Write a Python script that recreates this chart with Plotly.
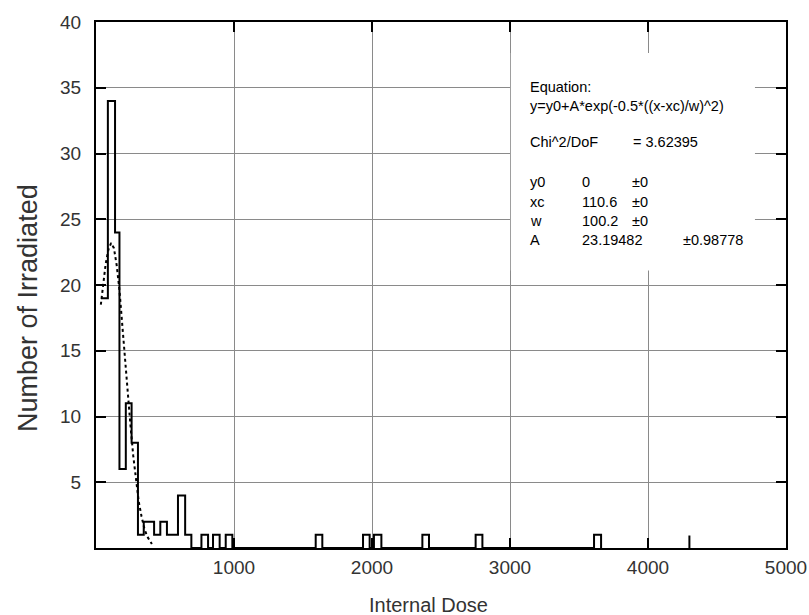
import plotly.graph_objects as go

# ---- data ----
# histogram bins (left edge, right edge, count) in "Internal Dose" units
bin_left = [36, 86, 138, 170, 216, 258, 304, 346, 421, 466, 514, 594, 646,
            764, 848, 940, 1592, 1935, 2014, 2365, 2751, 3609]
bin_right = [86, 138, 170, 216, 258, 304, 346, 421, 466, 514, 594, 646, 691,
             812, 896, 988, 1640, 1983, 2068, 2413, 2800, 3660]
counts = [19, 34, 24, 6, 11, 8, 1, 2, 1, 2, 1, 4, 1,
          1, 1, 1, 1, 1, 1, 1, 1, 1]

# dotted fitted curve
fit_x = [35, 50, 70, 90, 110, 130, 150, 170, 190, 210, 230, 250, 270, 290,
         310, 330, 350, 370, 390, 405]
fit_y = [18.5, 19.8, 21.6, 22.7, 23.2, 22.8, 21.5, 19.6, 16.9, 14.6, 11.9,
         9.3, 7.0, 5.0, 3.5, 2.4, 1.5, 0.9, 0.5, 0.3]

x_ticks = [1000, 2000, 3000, 4000, 5000]
y_ticks = [5, 10, 15, 20, 25, 30, 35, 40]

# ---- build the step outline of the histogram ----
hx, hy = [], []
prev_r = None
for l, r, c in zip(bin_left, bin_right, counts):
    if prev_r is None:
        hx.append(l); hy.append(c)
    elif l > prev_r + 1e-9:
        hx += [prev_r, l, l]; hy += [0, 0, c]
    else:
        hx.append(l); hy.append(c)
    hx.append(r); hy.append(c)
    prev_r = r
hx.append(prev_r); hy.append(0)

FONT = "Liberation Sans, Arial, sans-serif"

fig = go.Figure()
fig.add_trace(go.Scatter(x=hx, y=hy, mode="lines",
                         line=dict(color="black", width=2),
                         hoverinfo="skip", showlegend=False))
fig.add_trace(go.Scatter(x=fit_x, y=fit_y, mode="lines",
                         line=dict(color="black", width=2, dash="3px,3px"),
                         hoverinfo="skip", showlegend=False))

axis_common = dict(showline=True, linecolor="black", linewidth=2, mirror="ticks",
                   ticks="inside", ticklen=10, tickwidth=2, tickcolor="black",
                   showgrid=True, gridcolor="#8a8a8a", gridwidth=1,
                   zeroline=False, automargin=False,
                   tickfont=dict(family=FONT, size=19, color="#333333"))

fig.update_layout(
    template="none",
    width=809, height=615,
    margin=dict(l=96, r=23, t=22, b=67, autoexpand=False),
    paper_bgcolor="white", plot_bgcolor="white",
    font=dict(family=FONT, color="#333333"),
    xaxis=dict(range=[0, 5000], tickvals=x_ticks,
               ticktext=[str(v) for v in x_ticks], ticklabelstandoff=1,
               **axis_common),
    yaxis=dict(range=[0, 40], tickvals=y_ticks,
               ticktext=[str(v) for v in y_ticks], ticklabelstandoff=9,
               **axis_common),
)

# white box of the fit report (hides gridlines behind it)
fig.add_shape(type="rect", xref="x", yref="y", x0=3006, x1=4775, y0=21.1, y1=37.65,
              fillcolor="white", line=dict(width=0), layer="above")
# small stray tick at the bottom
fig.add_shape(type="line", xref="x", yref="y", x0=4300, x1=4300, y0=0, y1=0.95,
              line=dict(color="black", width=2), layer="above")

tf = dict(family=FONT, size=14.5, color="black")
rows = [
    (3129, 35.05, "Equation:"),
    (3129, 33.6, "y=y0+A*exp(-0.5*((x-xc)/w)^2)"),
    (3129, 30.87, "Chi^2/DoF"),
    (3880, 30.87, "= 3.62395"),
    (3129, 27.8, "y0"), (3505, 27.8, "0"), (3873, 27.8, "±0"),
    (3129, 26.35, "xc"), (3505, 26.35, "110.6"), (3873, 26.35, "±0"),
    (3129, 24.9, "w"), (3505, 24.9, "100.2"), (3873, 24.9, "±0"),
    (3129, 23.4, "A"), (3505, 23.4, "23.19482"), (4242, 23.4, "±0.98778"),
]
for x, y, t in rows:
    fig.add_annotation(x=x, y=y, xref="x", yref="y", text=t, showarrow=False,
                       xanchor="left", yanchor="middle", font=tf)

fig.add_annotation(x=0.4826, y=-0.1084, xref="paper", yref="paper",
                   text="Internal Dose", showarrow=False, xanchor="center",
                   yanchor="middle", font=dict(family=FONT, size=20, color="#333333"))
fig.add_annotation(x=-0.0986, y=0.4563, xref="paper", yref="paper",
                   text="Number of Irradiated", showarrow=False, xanchor="center",
                   yanchor="middle", textangle=-90,
                   font=dict(family=FONT, size=27, color="#333333"))

fig.write_html("out.html")
